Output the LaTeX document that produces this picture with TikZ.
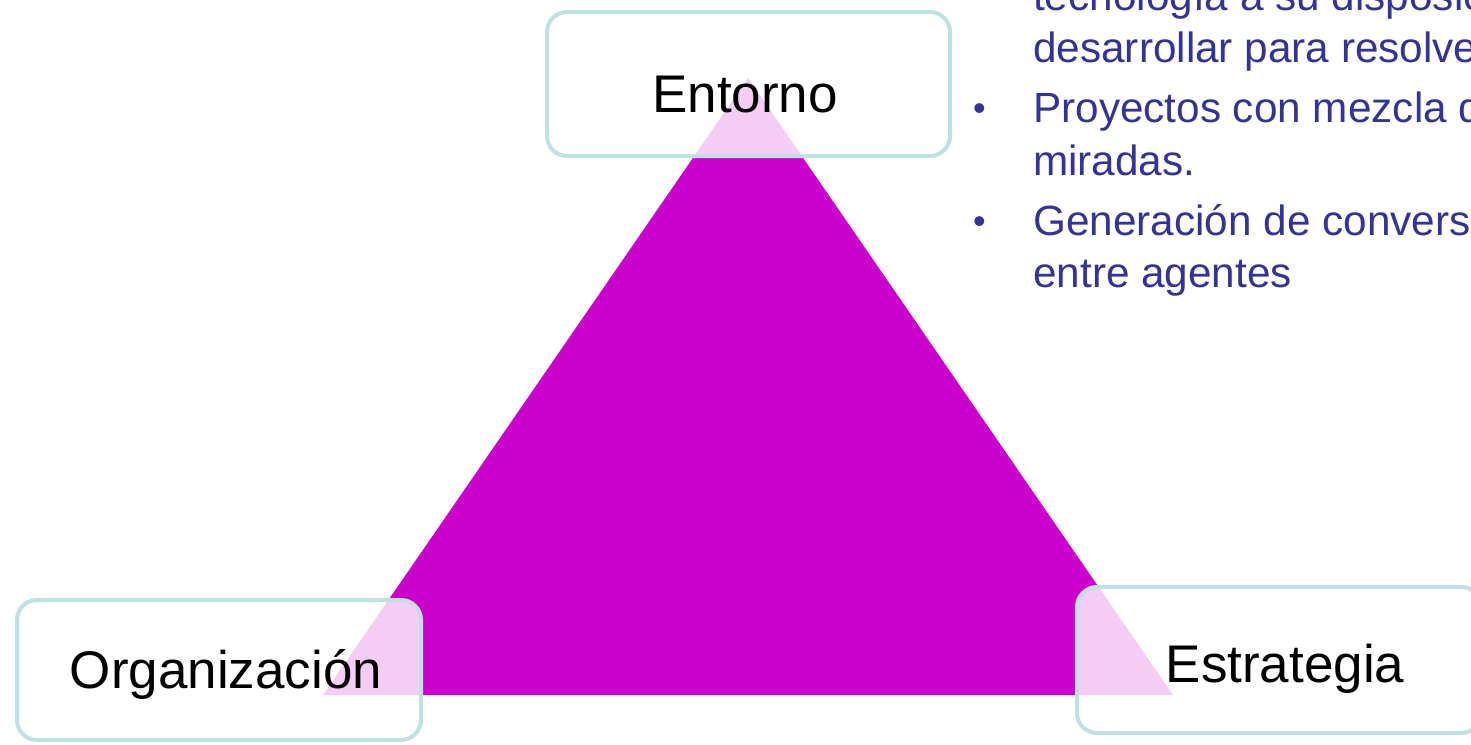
\documentclass[tikz,border=0pt]{standalone}
\usepackage{fontspec}
\setmainfont{Liberation Sans}
\definecolor{tri}{RGB}{204,0,204}
\definecolor{boxline}{RGB}{189,225,228}
\definecolor{txtblue}{RGB}{51,51,153}
\tikzset{
  cornerbox/.style={draw=boxline, line width=4pt, rounded corners=20pt, fill=white, fill opacity=0.8, inner sep=0pt},
  lbl/.style={anchor=base, inner sep=0pt, text=black, font=\fontsize{53}{60}\selectfont},
  bultxt/.style={anchor=base west, inner sep=0pt, text=txtblue, font=\fontsize{42.3}{48}\selectfont},
  bulmark/.style={anchor=base west, inner sep=0pt, text=txtblue, font=\fontsize{36}{40}\selectfont}
}
\begin{document}
\begin{tikzpicture}[x=1pt,y=-1pt]
\useasboundingbox (0,0) rectangle (1471,744);
\clip (0,0) rectangle (1471,744);
\fill[white] (0,0) rectangle (1471,744);
% triangle
\coordinate (apex) at (748,78);
\coordinate (bl) at (323,695);
\coordinate (br) at (1173,695);
\fill[tri] (apex) -- (bl) -- (br) -- cycle;
% boxes
\node[cornerbox, minimum width=403pt, minimum height=144pt] (entbox) at (748.5,84) {};
\node[cornerbox, minimum width=404pt, minimum height=140pt] (orgbox) at (219,670) {};
\node[cornerbox, minimum width=404pt, minimum height=146pt] (estbox) at (1279,660) {};
% labels
\node[lbl] (ent) at (745,112) {Entorno};
\node[lbl] (org) at (226,688) {Organización};
\node[lbl] (est) at (1285,682) {Estrategia};
% bullet text
\node[bultxt] (t1) at (1033,10) {tecnología a su disposición};
\node[bultxt] (t2) at (1033,62) {desarrollar para resolver};
\node[bulmark] (b1) at (973,120) {•};
\node[bultxt] (t3) at (1033,122) {Proyectos con mezcla de};
\node[bultxt] (t4) at (1033,175) {miradas.};
\node[bulmark] (b2) at (973,233) {•};
\node[bultxt] (t5) at (1033,235) {Generación de conversaciones};
\node[bultxt] (t6) at (1033,287) {entre agentes};
\end{tikzpicture}
\end{document}
